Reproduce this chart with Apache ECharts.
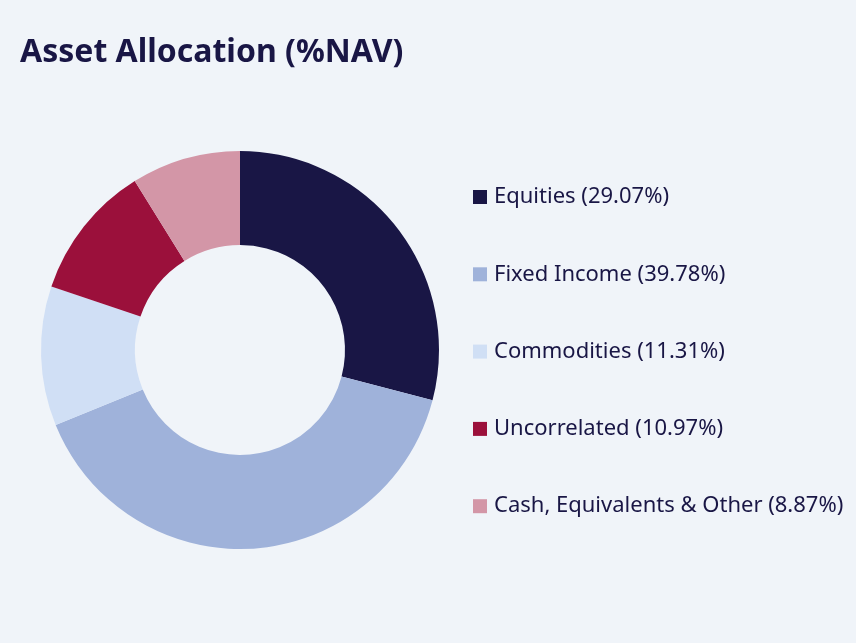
<!DOCTYPE html>
<html><head><meta charset="utf-8">
<script src="https://cdn.jsdelivr.net/npm/echarts@6/dist/echarts.min.js"></script>
<style>html,body{margin:0;padding:0;background:#f0f4f9;}#c{width:856px;height:643px;}</style>
</head><body><div id="c"></div>
<script>
const categories = ["Equities", "Fixed Income", "Commodities", "Uncorrelated", "Cash, Equivalents & Other"];
const values = [29.07, 39.78, 11.31, 10.97, 8.87];
const colors = ["#191645", "#9fb2da", "#d0dff5", "#9b103b", "#d396a7"];
const titleText = "Asset Allocation (%NAV)";

const chart = echarts.init(document.getElementById('c'));
chart.setOption({
  backgroundColor: '#f0f4f9',
  animation: false,
  title: {
    text: titleText, left: 20, top: 37, padding: 0,
    textStyle: { fontFamily: 'Noto Sans', fontWeight: 'bold', fontSize: 32, color: '#191645' }
  },
  legend: {
    orient: 'vertical', left: 473, top: 186, padding: 0,
    itemWidth: 14, itemHeight: 14, itemGap: 55.3,
    icon: 'rect',
    formatter: function (name) {
      const i = categories.indexOf(name);
      return name + ' (' + values[i].toFixed(2) + '%)';
    },
    textStyle: { fontFamily: 'Noto Sans', fontSize: 22, color: '#191645', padding: [0,0,0,2] },
    selectedMode: false
  },
  series: [{
    type: 'pie',
    center: [240, 350],
    radius: [105, 199],
    startAngle: 90,
    clockwise: true,
    label: { show: false },
    labelLine: { show: false },
    emphasis: { disabled: true },
    data: categories.map((c, i) => ({ name: c, value: values[i], itemStyle: { color: colors[i] } }))
  }]
});
</script></body></html>
